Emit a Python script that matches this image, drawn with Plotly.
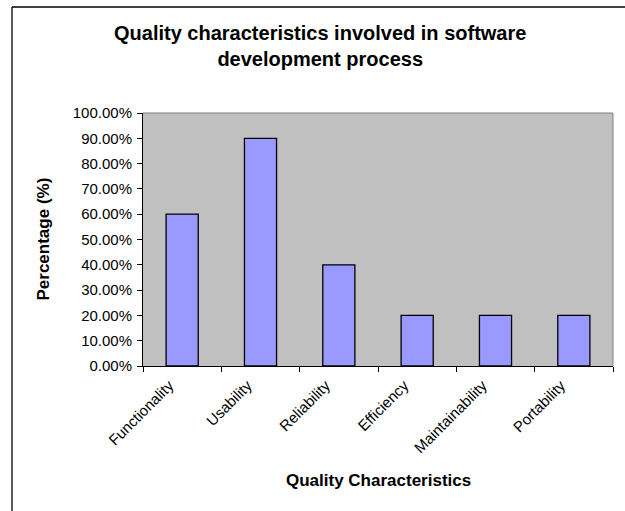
import plotly.graph_objects as go

categories = ["Functionality", "Usability", "Reliability", "Efficiency", "Maintainability", "Portability"]
values = [0.60, 0.90, 0.40, 0.20, 0.20, 0.20]
y_ticks = [0.0, 0.1, 0.2, 0.3, 0.4, 0.5, 0.6, 0.7, 0.8, 0.9, 1.0]

W, H = 625, 511
L, R, T, B = 143, 12, 113, 145
pw, ph = W - L - R, H - T - B

def px_x(p):
    return (p - L) / pw

def px_y(p):
    return (H - B - p) / ph

FONT = "Arial, Liberation Sans, sans-serif"

fig = go.Figure(go.Bar(
    x=categories, y=values, width=0.41,
    marker=dict(color="#9999FF", line=dict(color="black", width=1.3)),
))

fig.update_layout(
    width=W, height=H,
    margin=dict(l=L, r=R, t=T, b=B),
    paper_bgcolor="white", plot_bgcolor="#C0C0C0",
    showlegend=False,
    font=dict(family=FONT, size=15, color="black"),
    xaxis=dict(
        type="category", tickson="boundaries", ticks="outside", ticklen=5,
        tickcolor="black", tickangle=-45, showline=True, linecolor="black",
        linewidth=1, showgrid=False, tickfont=dict(size=15),
        ticklabelshift=-13, ticklabelstandoff=4,
    ),
    yaxis=dict(
        range=[0, 1], tickvals=y_ticks, tickformat=".2%", ticks="outside",
        ticklen=5, tickcolor="black", showline=True, linecolor="black",
        linewidth=1, showgrid=False, zeroline=False, tickfont=dict(size=15),
        ticklabelstandoff=2,
    ),
    annotations=[
        dict(text="<b>Quality characteristics involved in software<br>development process</b>",
             xref="paper", yref="paper", x=px_x(320), y=px_y(45.5),
             xanchor="center", yanchor="middle", align="center",
             showarrow=False, font=dict(size=20)),
        dict(text="<b>Quality Characteristics</b>", xref="paper", yref="paper",
             x=0.5, y=px_y(480), xanchor="center", yanchor="middle",
             showarrow=False, font=dict(size=17)),
        dict(text="<b>Percentage (%)</b>", xref="paper", yref="paper",
             x=px_x(43), y=0.5, xanchor="center", yanchor="middle",
             textangle=-90, showarrow=False, font=dict(size=17)),
    ],
    shapes=[
        # plot-area border (top and right, grey)
        dict(type="line", xref="paper", yref="paper", x0=0, x1=1, y0=1, y1=1,
             line=dict(color="#808080", width=1)),
        dict(type="line", xref="paper", yref="paper", x0=1, x1=1, y0=0, y1=1,
             line=dict(color="#808080", width=1)),
        # chart-area frame (left and top edges visible)
        dict(type="line", xref="paper", yref="paper", x0=px_x(12), x1=px_x(700),
             y0=px_y(7), y1=px_y(7), line=dict(color="black", width=1.3)),
        dict(type="line", xref="paper", yref="paper", x0=px_x(12), x1=px_x(12),
             y0=px_y(7), y1=px_y(600), line=dict(color="black", width=1.3)),
    ],
)

fig.write_html("out.html")
